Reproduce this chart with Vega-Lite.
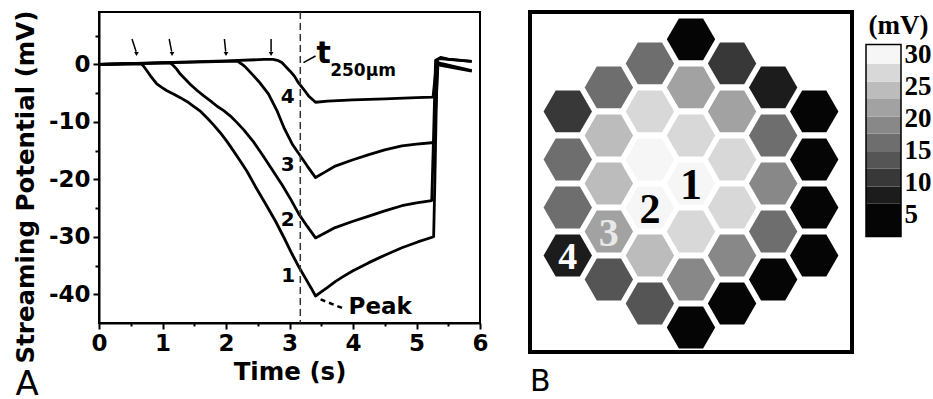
{
  "$schema": "https://vega.github.io/schema/vega-lite/v6.json",
  "background": "white",
  "padding": {"left": 12, "top": 8, "right": 0, "bottom": 0},
  "config": {
    "font": "DejaVu Sans",
    "axis": {"grid": false, "domainColor": "black", "domainWidth": 2, "tickColor": "black", "tickWidth": 2, "labelColor": "black", "titleColor": "black", "labelFont": "DejaVu Sans", "labelFontWeight": "bold", "labelFontSize": 23, "titleFont": "DejaVu Sans", "titleFontWeight": "bold", "titleFontSize": 24.5, "labelPadding": 3, "labelFlush": false, "labelOverlap": false}
  },
  "spacing": 38,
  "hconcat": [
    {
      "width": 381,
      "height": 311,
      "view": {"stroke": "black", "strokeWidth": 2},
      "title": {"text": "A", "orient": "bottom", "anchor": "start", "frame": "bounds", "font": "DejaVu Sans", "fontSize": 34, "fontWeight": "normal", "baseline": "alphabetic", "offset": 11, "dx": 2, "color": "black"},
      "encoding": {
        "x": {"field": "t", "type": "quantitative", "scale": {"domain": [0, 6], "nice": false, "zero": false},
          "axis": {"title": "Time (s)", "values": [0, 0.5, 1, 1.5, 2, 2.5, 3, 3.5, 4, 4.5, 5, 5.5, 6], "labelExpr": "datum.value % 1 == 0 ? toString(datum.value) : ''", "tickSize": {"condition": {"test": "datum.value % 1 != 0", "value": 3}, "value": 6}, "titlePadding": 5}},
        "y": {"field": "v", "type": "quantitative", "scale": {"domain": [-45, 9.1], "nice": false, "zero": false},
          "axis": {"title": "Streaming Potential (mV)", "values": [-40, -35, -30, -25, -20, -15, -10, -5, 0, 5], "labelExpr": "datum.value % 10 == 0 ? toString(datum.value) : ''", "tickSize": {"condition": {"test": "datum.value % 10 != 0", "value": 4}, "value": 6}, "titlePadding": 10, "titleY": 174.5}}
      },
      "layer": [
        {
          "data": {"values": [
            {"c":1,"t":0,"v":0},{"c":1,"t":0.66,"v":0.1},{"c":1,"t":0.70,"v":-0.3},{"c":1,"t":0.76,"v":-1.2},{"c":1,"t":0.81,"v":-2.0},{"c":1,"t":0.91,"v":-3.4},{"c":1,"t":1.0,"v":-4.1},{"c":1,"t":1.07,"v":-4.6},{"c":1,"t":1.18,"v":-5.2},{"c":1,"t":1.28,"v":-5.8},{"c":1,"t":1.39,"v":-6.5},{"c":1,"t":1.49,"v":-7.3},{"c":1,"t":1.60,"v":-8.2},{"c":1,"t":1.70,"v":-9.3},{"c":1,"t":1.80,"v":-10.5},{"c":1,"t":1.91,"v":-11.9},{"c":1,"t":2.02,"v":-13.5},{"c":1,"t":2.12,"v":-15.1},{"c":1,"t":2.23,"v":-16.9},{"c":1,"t":2.33,"v":-18.6},{"c":1,"t":2.46,"v":-21.2},{"c":1,"t":2.62,"v":-24.2},{"c":1,"t":2.78,"v":-27.3},{"c":1,"t":2.92,"v":-30.3},{"c":1,"t":3.04,"v":-33.0},{"c":1,"t":3.15,"v":-35.3},{"c":1,"t":3.25,"v":-37.2},{"c":1,"t":3.34,"v":-38.9},{"c":1,"t":3.41,"v":-40.3},{"c":1,"t":3.50,"v":-39.6},{"c":1,"t":3.60,"v":-38.8},{"c":1,"t":3.72,"v":-37.8},{"c":1,"t":3.85,"v":-36.9},{"c":1,"t":4.0,"v":-35.9},{"c":1,"t":4.25,"v":-34.5},{"c":1,"t":4.50,"v":-33.2},{"c":1,"t":4.77,"v":-31.9},{"c":1,"t":5.02,"v":-30.9},{"c":1,"t":5.27,"v":-30.0},{"c":1,"t":5.29,"v":-20.0},{"c":1,"t":5.31,"v":-8.0},{"c":1,"t":5.33,"v":0.8},{"c":1,"t":5.38,"v":1.2},{"c":1,"t":5.5,"v":0.9},{"c":1,"t":5.87,"v":0.5},
            {"c":2,"t":0,"v":0},{"c":2,"t":1.12,"v":0.25},{"c":2,"t":1.17,"v":-0.2},{"c":2,"t":1.22,"v":-0.8},{"c":2,"t":1.28,"v":-1.7},{"c":2,"t":1.36,"v":-2.6},{"c":2,"t":1.44,"v":-3.5},{"c":2,"t":1.55,"v":-4.6},{"c":2,"t":1.65,"v":-5.5},{"c":2,"t":1.76,"v":-6.4},{"c":2,"t":1.86,"v":-7.3},{"c":2,"t":1.97,"v":-8.1},{"c":2,"t":2.07,"v":-9.0},{"c":2,"t":2.17,"v":-10.1},{"c":2,"t":2.28,"v":-11.4},{"c":2,"t":2.44,"v":-13.6},{"c":2,"t":2.57,"v":-15.7},{"c":2,"t":2.72,"v":-18.2},{"c":2,"t":2.88,"v":-20.9},{"c":2,"t":3.02,"v":-23.5},{"c":2,"t":3.15,"v":-26.1},{"c":2,"t":3.28,"v":-28.2},{"c":2,"t":3.41,"v":-30.2},{"c":2,"t":3.55,"v":-29.4},{"c":2,"t":3.72,"v":-28.4},{"c":2,"t":4.0,"v":-27.3},{"c":2,"t":4.25,"v":-26.4},{"c":2,"t":4.5,"v":-25.5},{"c":2,"t":4.77,"v":-24.6},{"c":2,"t":5.0,"v":-24.1},{"c":2,"t":5.24,"v":-23.7},{"c":2,"t":5.27,"v":-12.0},{"c":2,"t":5.30,"v":0.7},{"c":2,"t":5.36,"v":1.0},{"c":2,"t":5.87,"v":0.5},
            {"c":3,"t":0,"v":0},{"c":3,"t":2.18,"v":0.55},{"c":3,"t":2.24,"v":0.1},{"c":3,"t":2.30,"v":-0.4},{"c":3,"t":2.41,"v":-1.7},{"c":3,"t":2.54,"v":-3.3},{"c":3,"t":2.67,"v":-5.2},{"c":3,"t":2.80,"v":-8.0},{"c":3,"t":2.92,"v":-11.2},{"c":3,"t":3.05,"v":-14.0},{"c":3,"t":3.15,"v":-15.6},{"c":3,"t":3.28,"v":-17.7},{"c":3,"t":3.41,"v":-19.7},{"c":3,"t":3.55,"v":-18.8},{"c":3,"t":3.72,"v":-17.7},{"c":3,"t":4.0,"v":-16.6},{"c":3,"t":4.25,"v":-15.7},{"c":3,"t":4.5,"v":-14.9},{"c":3,"t":4.77,"v":-14.2},{"c":3,"t":5.0,"v":-13.9},{"c":3,"t":5.28,"v":-13.6},{"c":3,"t":5.31,"v":-6.0},{"c":3,"t":5.34,"v":0.3},{"c":3,"t":5.40,"v":0.1},{"c":3,"t":5.87,"v":-1.1},
            {"c":4,"t":0,"v":0},{"c":4,"t":1.0,"v":0.3},{"c":4,"t":2.0,"v":0.6},{"c":4,"t":2.6,"v":0.85},{"c":4,"t":2.74,"v":0.87},{"c":4,"t":2.81,"v":0.7},{"c":4,"t":2.88,"v":0.3},{"c":4,"t":2.95,"v":-0.5},{"c":4,"t":3.01,"v":-1.2},{"c":4,"t":3.08,"v":-2.1},{"c":4,"t":3.14,"v":-3.2},{"c":4,"t":3.22,"v":-4.3},{"c":4,"t":3.30,"v":-5.5},{"c":4,"t":3.41,"v":-6.6},{"c":4,"t":3.6,"v":-6.4},{"c":4,"t":4.0,"v":-6.2},{"c":4,"t":4.5,"v":-6.0},{"c":4,"t":5.0,"v":-5.8},{"c":4,"t":5.26,"v":-5.7},{"c":4,"t":5.29,"v":-2.5},{"c":4,"t":5.32,"v":0.5},{"c":4,"t":5.38,"v":-0.2},{"c":4,"t":5.87,"v":-1.2}
          ]},
          "mark": {"type": "line", "color": "black", "strokeWidth": 2.8, "strokeJoin": "round"},
          "encoding": {"detail": {"field": "c", "type": "nominal"}}
        },
        {
          "data": {"values": [{"t": 3.17, "v": 9.1, "v2": -45}]},
          "mark": {"type": "rule", "color": "#333333", "strokeWidth": 1.5, "strokeDash": [7, 4]},
          "encoding": {"y2": {"field": "v2"}}
        },
        {
          "data": {"values": [
            {"t": 0.52, "v": 4.4, "t2": 0.585, "v2": 2.2},
            {"t": 1.105, "v": 4.4, "t2": 1.145, "v2": 2.2},
            {"t": 1.975, "v": 4.4, "t2": 1.995, "v2": 2.2},
            {"t": 2.71, "v": 4.4, "t2": 2.71, "v2": 2.2},
            {"t": 3.22, "v": 0.28, "t2": 3.41, "v2": 1.45}
          ]},
          "mark": {"type": "rule", "color": "black", "strokeWidth": 1.5},
          "encoding": {"x2": {"field": "t2"}, "y2": {"field": "v2"}}
        },
        {
          "data": {"values": [{"t": 0.59, "v": 1.8}, {"t": 1.15, "v": 1.8}, {"t": 2.0, "v": 1.8}, {"t": 2.71, "v": 1.8}]},
          "mark": {"type": "point", "shape": "triangle-down", "filled": true, "size": 22, "color": "black", "opacity": 1}
        },
        {
          "data": {"values": [{"t": 3.49, "v": -40.9, "t2": 3.88, "v2": -42.6}]},
          "mark": {"type": "rule", "color": "black", "strokeWidth": 2.5, "strokeDash": [5, 4]},
          "encoding": {"x2": {"field": "t2"}, "y2": {"field": "v2"}}
        },
        {
          "data": {"values": [
            {"t": 2.97, "v": -5.6, "label": "4"},
            {"t": 2.97, "v": -17.5, "label": "3"},
            {"t": 2.97, "v": -27.0, "label": "2"},
            {"t": 2.98, "v": -36.9, "label": "1"}
          ]},
          "mark": {"type": "text", "font": "DejaVu Sans", "fontWeight": "bold", "fontSize": 20, "baseline": "middle", "align": "center", "color": "black"},
          "encoding": {"text": {"field": "label"}}
        },
        {
          "data": {"values": [{"t": 3.54, "v": 0.28, "label": "t"}]},
          "mark": {"type": "text", "font": "DejaVu Sans", "fontWeight": "bold", "fontSize": 30, "baseline": "alphabetic", "align": "center", "color": "black"},
          "encoding": {"text": {"field": "label"}}
        },
        {
          "data": {"values": [{"t": 3.64, "v": -2.0, "label": "250μm"}, {"t": 3.93, "v": -43.4, "label": "Peak"}]},
          "mark": {"type": "text", "font": "DejaVu Sans", "fontWeight": "bold", "baseline": "alphabetic", "align": "left", "color": "black"},
          "encoding": {"text": {"field": "label"}, "size": {"condition": {"test": "datum.label == 'Peak'", "value": 23}, "value": 17}}
        }
      ]
    },
    {
      "spacing": 11,
      "hconcat": [
        {
          "width": 322,
          "height": 340,
          "view": {"stroke": "black", "strokeWidth": 4},
          "title": {"text": "B", "orient": "bottom", "anchor": "start", "frame": "group", "font": "DejaVu Sans", "fontSize": 30, "fontWeight": "normal", "baseline": "alphabetic", "offset": 39, "color": "black"},
          "encoding": {
            "x": {"field": "col", "type": "quantitative", "scale": {"domain": [-3.92, 3.92], "nice": false, "zero": false}, "axis": null},
            "y": {"field": "row", "type": "quantitative", "scale": {"domain": [-3.57, 3.51], "nice": false, "zero": false, "reverse": true}, "axis": null}
          },
          "layer": [
            {
              "data": {"values": [
                {"col": -3, "row": -1.5, "mv": 11}, {"col": -3, "row": -0.5, "mv": 16}, {"col": -3, "row": 0.5, "mv": 16}, {"col": -3, "row": 1.5, "mv": 8},
                {"col": -2, "row": -2, "mv": 16}, {"col": -2, "row": -1, "mv": 24.5}, {"col": -2, "row": 0, "mv": 24.5}, {"col": -2, "row": 1, "mv": 21.5}, {"col": -2, "row": 2, "mv": 13.5},
                {"col": -1, "row": -2.5, "mv": 16}, {"col": -1, "row": -1.5, "mv": 27}, {"col": -1, "row": -0.5, "mv": 30.5}, {"col": -1, "row": 0.5, "mv": 29.5}, {"col": -1, "row": 1.5, "mv": 24}, {"col": -1, "row": 2.5, "mv": 13},
                {"col": 0, "row": -3, "mv": 5}, {"col": 0, "row": -2, "mv": 21.5}, {"col": 0, "row": -1, "mv": 27}, {"col": 0, "row": 0, "mv": 31}, {"col": 0, "row": 1, "mv": 27}, {"col": 0, "row": 2, "mv": 19}, {"col": 0, "row": 3, "mv": 4},
                {"col": 1, "row": -2.5, "mv": 11}, {"col": 1, "row": -1.5, "mv": 21.5}, {"col": 1, "row": -0.5, "mv": 26.5}, {"col": 1, "row": 0.5, "mv": 26.5}, {"col": 1, "row": 1.5, "mv": 19}, {"col": 1, "row": 2.5, "mv": 5},
                {"col": 2, "row": -2, "mv": 8}, {"col": 2, "row": -1, "mv": 17}, {"col": 2, "row": 0, "mv": 19}, {"col": 2, "row": 1, "mv": 16}, {"col": 2, "row": 2, "mv": 5},
                {"col": 3, "row": -1.5, "mv": 4}, {"col": 3, "row": -0.5, "mv": 4}, {"col": 3, "row": 0.5, "mv": 4}, {"col": 3, "row": 1.5, "mv": 4}
              ]},
              "mark": {"type": "point", "shape": "M -1 0 L -0.5 -0.866 L 0.5 -0.866 L 1 0 L 0.5 0.866 L -0.5 0.866 Z", "filled": true, "size": 2343, "opacity": 1, "strokeWidth": 0},
              "encoding": {
                "color": {"field": "mv", "type": "quantitative", "legend": null,
                  "scale": {"type": "threshold", "domain": [6.7, 9.4, 12.2, 14.8, 17.7, 20.3, 23.1, 25.8, 28.6], "range": ["#050505", "#1c1c1c", "#383838", "#555555", "#6e6e6e", "#888888", "#a2a2a2", "#bcbcbc", "#d8d8d8", "#f6f6f6"]}}
              }
            },
            {
              "data": {"values": [
                {"col": 0, "row": 0, "label": "1"},
                {"col": -1, "row": 0.5, "label": "2"},
                {"col": -2, "row": 1, "label": "3"},
                {"col": -3, "row": 1.5, "label": "4"}
              ]},
              "mark": {"type": "text", "font": "Liberation Serif", "fontWeight": "bold", "baseline": "middle", "align": "center", "dy": 3},
              "encoding": {
                "text": {"field": "label"},
                "size": {"condition": [{"test": "datum.label == '1'", "value": 44}, {"test": "datum.label == '2'", "value": 42}, {"test": "datum.label == '3'", "value": 40}], "value": 38},
                "color": {"condition": [{"test": "datum.label == '3'", "value": "#e8e8e8"}, {"test": "datum.label == '4'", "value": "#ffffff"}], "value": "#000000"}
              }
            }
          ]
        },
        {
          "width": 35,
          "height": 340,
          "view": {"stroke": null},
          "encoding": {
            "y": {"field": "lo", "type": "quantitative", "scale": {"domain": [-16.45, 36.68], "nice": false, "zero": false},
              "axis": {"orient": "right", "values": [5, 10, 15, 20, 25, 30], "ticks": false, "domain": false, "title": null, "labelFont": "Liberation Serif", "labelFontWeight": "bold", "labelFontSize": 27, "labelPadding": 3, "labelBaseline": "middle"}}
          },
          "layer": [
            {
              "data": {"values": [
                {"lo": 1.6, "hi": 6.7}, {"lo": 6.7, "hi": 9.4}, {"lo": 9.4, "hi": 12.2}, {"lo": 12.2, "hi": 14.8}, {"lo": 14.8, "hi": 17.7},
                {"lo": 17.7, "hi": 20.3}, {"lo": 20.3, "hi": 23.1}, {"lo": 23.1, "hi": 25.8}, {"lo": 25.8, "hi": 28.6}, {"lo": 28.6, "hi": 31.6}
              ]},
              "mark": {"type": "rect", "strokeWidth": 0},
              "encoding": {
                "y2": {"field": "hi"},
                "color": {"field": "lo", "type": "quantitative", "legend": null,
                  "scale": {"type": "threshold", "domain": [6.7, 9.4, 12.2, 14.8, 17.7, 20.3, 23.1, 25.8, 28.6], "range": ["#050505", "#1c1c1c", "#383838", "#555555", "#6e6e6e", "#888888", "#a2a2a2", "#bcbcbc", "#d8d8d8", "#f6f6f6"]}}
              }
            },
            {
              "data": {"values": [{"lo": 1.6, "hi": 31.6}]},
              "mark": {"type": "rect", "fill": "transparent", "stroke": "black", "strokeWidth": 1.5},
              "encoding": {"y2": {"field": "hi"}}
            },
            {
              "data": {"values": [{"lo": 34.57, "label": "(mV)"}]},
              "mark": {"type": "text", "font": "Liberation Serif", "fontWeight": "bold", "fontSize": 27, "baseline": "middle", "align": "center", "dx": 15, "color": "black"},
              "encoding": {"text": {"field": "label"}}
            }
          ]
        }
      ]
    }
  ]
}
